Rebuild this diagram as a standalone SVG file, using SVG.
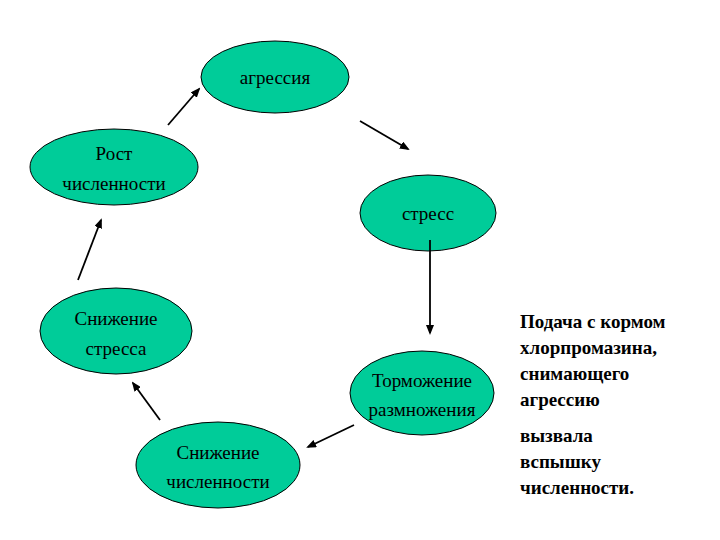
<svg xmlns="http://www.w3.org/2000/svg" width="720" height="540" viewBox="0 0 720 540">
<style>
.n{fill:#00cc99;stroke:#000;stroke-width:1}
.t{font-family:"Liberation Serif",serif;font-size:19px;text-anchor:middle;fill:#000}
.b{font-family:"Liberation Serif",serif;font-size:19px;font-weight:bold;fill:#000}
.c line{stroke:#000;stroke-width:1.8;marker-end:url(#a)}
</style>
<defs><marker id="a" markerWidth="10" markerHeight="8" refX="8" refY="4" orient="auto" markerUnits="userSpaceOnUse"><path d="M0,0L10,4L0,8z"/></marker></defs>
<rect width="720" height="540" fill="#fff"/>
<g id="n1"><ellipse class="n" cx="275" cy="77" rx="74" ry="36"/><text class="t" x="275" y="84">агрессия</text></g>
<g id="n2"><ellipse class="n" cx="114" cy="167" rx="84" ry="38"/><text class="t" x="114" y="160">Рост</text><text class="t" x="114" y="190">численности</text></g>
<g id="n3"><ellipse class="n" cx="428" cy="213" rx="68" ry="38"/><text class="t" x="428" y="220">стресс</text></g>
<g id="n4"><ellipse class="n" cx="116" cy="331" rx="76" ry="43"/><text class="t" x="116" y="325">Снижение</text><text class="t" x="116" y="355">стресса</text></g>
<g id="n5"><ellipse class="n" cx="422" cy="393" rx="72" ry="42"/><text class="t" x="422" y="387">Торможение</text><text class="t" x="422" y="416">размножения</text></g>
<g id="n6"><ellipse class="n" cx="218" cy="465" rx="82" ry="43"/><text class="t" x="218" y="459">Снижение</text><text class="t" x="218" y="488">численности</text></g>
<g class="c" id="connectors">
<line x1="168" y1="125" x2="199" y2="89"/>
<line x1="360" y1="121" x2="408" y2="149"/>
<line x1="430" y1="240" x2="430" y2="333"/>
<line x1="354" y1="425" x2="308" y2="447"/>
<line x1="160" y1="420" x2="133" y2="383"/>
<line x1="78" y1="280" x2="101" y2="220"/>
</g>
<g id="note">
<text class="b" x="520" y="328">Подача с кормом</text>
<text class="b" x="520" y="354">хлорпромазина,</text>
<text class="b" x="520" y="380">снимающего</text>
<text class="b" x="520" y="406">агрессию</text>
<text class="b" x="520" y="442">вызвала</text>
<text class="b" x="520" y="468">вспышку</text>
<text class="b" x="520" y="494">численности.</text>
</g>
</svg>
